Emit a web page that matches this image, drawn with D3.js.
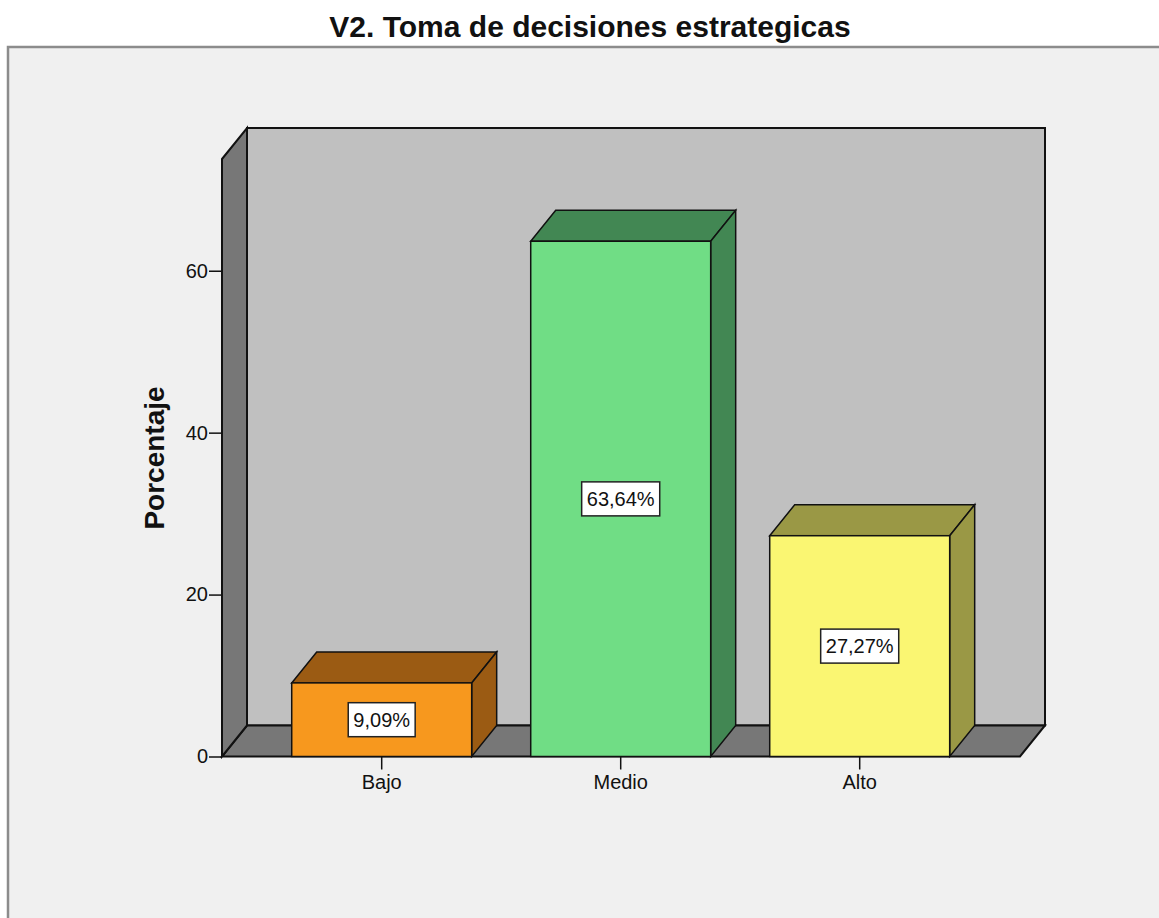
<!DOCTYPE html>
<html lang="es">
<head>
<meta charset="UTF-8">
<title>V2. Toma de decisiones estrategicas</title>
<script src="https://d3js.org/d3.v7.min.js"></script>
<style>
    body { margin: 0; background: #fff; }
    svg { display: block; font-family: "Liberation Sans", Arial, sans-serif; }
    .tick text { font-size: 20px; fill: #111; }
    .tick line { stroke: #111; stroke-width: 1.5px; }
</style>
</head>
<body>
<svg width="1159" height="918"></svg>
<script>
const categories = ["Bajo", "Medio", "Alto"];
const percentages = [9.09, 63.64, 27.27];
const valueLabels = ["9,09%", "63,64%", "27,27%"];
const yTicks = [0, 20, 40, 60];
const yMax = 73.8;

const frontColors = ["#f7981e", "#70dd85", "#faf672"];
const darkColors = ["#9b5b13", "#428753", "#9a9845"];

const svg = d3.select("svg");

// depth of the 3d effect
const dx = 25, dy = -31;
const y0 = 756.5, yTop = 159;
const xLeft = 222, xRight = 1020;

// outer frame
svg.append("rect")
    .attr("x", 8).attr("y", 47)
    .attr("width", 1180).attr("height", 900)
    .attr("fill", "#f0f0f0")
    .attr("stroke", "#8c8c8c")
    .attr("stroke-width", 2.5);

svg.append("text")
    .attr("x", 590).attr("y", 37)
    .attr("text-anchor", "middle")
    .attr("font-size", 30)
    .attr("font-weight", "bold")
    .attr("fill", "#111")
    .text("V2. Toma de decisiones estrategicas");

const y = d3.scaleLinear().domain([0, yMax]).range([y0, yTop]);
const x = d3.scaleBand()
    .domain(categories)
    .range([262.2, 979.2])
    .paddingInner(0.247)
    .paddingOuter(0.1235);

const poly = pts => "M" + pts.map(p => p.join(",")).join("L") + "Z";

// back wall, floor, left wall
svg.append("path")
    .attr("d", poly([[xLeft + dx, yTop + dy], [xRight + dx, yTop + dy], [xRight + dx, y0 + dy], [xLeft + dx, y0 + dy]]))
    .attr("fill", "#c0c0c0").attr("stroke", "#111").attr("stroke-width", 2);

svg.append("path")
    .attr("d", poly([[xLeft, y0], [xLeft + dx, y0 + dy], [xRight + dx, y0 + dy], [xRight, y0]]))
    .attr("fill", "#777").attr("stroke", "#111").attr("stroke-width", 2);

svg.append("path")
    .attr("d", poly([[xLeft, yTop], [xLeft + dx, yTop + dy], [xLeft + dx, y0 + dy], [xLeft, y0]]))
    .attr("fill", "#777").attr("stroke", "#111").attr("stroke-width", 2);

// bars
const bars = svg.append("g").selectAll("g")
    .data(categories.map((c, i) => ({ c, v: percentages[i], label: valueLabels[i], i })))
    .join("g");

bars.each(function (d) {
    const g = d3.select(this);
    const bx = x(d.c), bw = x.bandwidth(), by = y(d.v);
    g.append("path")
        .attr("d", poly([[bx, by], [bx + dx, by + dy], [bx + bw + dx, by + dy], [bx + bw, by]]))
        .attr("fill", darkColors[d.i]).attr("stroke", "#111").attr("stroke-width", 1.5);
    g.append("path")
        .attr("d", poly([[bx + bw, by], [bx + bw + dx, by + dy], [bx + bw + dx, y0 + dy], [bx + bw, y0]]))
        .attr("fill", darkColors[d.i]).attr("stroke", "#111").attr("stroke-width", 1.5);
    g.append("rect")
        .attr("x", bx).attr("y", by)
        .attr("width", bw).attr("height", y0 - by)
        .attr("fill", frontColors[d.i]).attr("stroke", "#111").attr("stroke-width", 1.5);

    const cx = bx + bw / 2, cy = (by + y0) / 2;
    const box = g.append("rect");
    const t = g.append("text")
        .attr("x", cx).attr("y", cy + 7)
        .attr("text-anchor", "middle")
        .attr("font-size", 20)
        .attr("fill", "#111")
        .text(d.label);
    const w = t.node().getBBox().width + 10;
    box.attr("x", cx - w / 2).attr("y", cy - 17)
        .attr("width", w).attr("height", 34)
        .attr("fill", "#fff").attr("stroke", "#222").attr("stroke-width", 1.5);
});

// axes
svg.append("g")
    .attr("transform", `translate(${xLeft},0)`)
    .call(d3.axisLeft(y).tickValues(yTicks).tickSize(13).tickPadding(1).tickSizeOuter(0))
    .call(g => g.select(".domain").remove());

svg.append("g")
    .attr("transform", `translate(0,${y0})`)
    .call(d3.axisBottom(x).tickSize(13).tickPadding(5).tickSizeOuter(0))
    .call(g => g.select(".domain").remove());

svg.append("text")
    .attr("transform", "translate(164,458) rotate(-90)")
    .attr("text-anchor", "middle")
    .attr("font-size", 28)
    .attr("font-weight", "bold")
    .attr("fill", "#111")
    .text("Porcentaje");
</script>
</body>
</html>
